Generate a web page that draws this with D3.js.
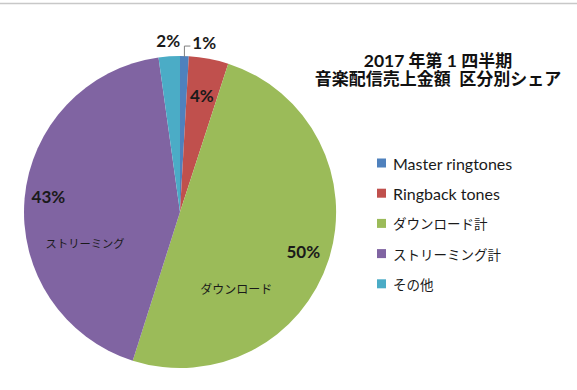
<!DOCTYPE html>
<html>
<head>
<meta charset="utf-8">
<script src="https://cdn.jsdelivr.net/npm/d3@7"></script>
<style>
  body { margin: 0; background: #fff; }
  svg { display: block; font-family: Lato, "Noto Sans CJK JP", sans-serif; }
</style>
</head>
<body>
<svg id="chart" width="577" height="390"></svg>
<script>
// Data
const categories = ["Master ringtones", "Ringback tones", "ダウンロード計", "ストリーミング計", "その他"];
const shares = [0.9, 4.1, 49.9, 42.9, 2.2];
const percentLabels = ["1%", "4%", "50%", "43%", "2%"];
const colors = ["#4F81BD", "#C0504D", "#9BBB59", "#8064A2", "#4BACC6"];
const titleLines = ["2017 年第 1 四半期", "音楽配信売上金額\u00a0\u00a0区分別シェア"];

const svg = d3.select("#chart");
const cx = 180, cy = 212, r = 156;

// split text into latin / japanese runs so each gets its own font
const cjk = /[\u3000-\u30ff\u4e00-\u9fff\uff00-\uffef]/;
function runs(str) {
  const out = [];
  for (const ch of str) {
    const isJ = cjk.test(ch);
    if (out.length && out[out.length - 1].j === isJ) out[out.length - 1].t += ch;
    else out.push({ t: ch, j: isJ });
  }
  return out;
}
function mixedText(sel, str, latinSize, jpSize) {
  runs(str).forEach((p) => {
    sel.append("tspan")
      .attr("font-family", p.j ? "'Noto Sans CJK JP'" : "Lato")
      .attr("font-size", (p.j ? jpSize : latinSize) + "px")
      .text(p.t);
  });
}

// top border line
svg.append("line")
  .attr("x1", 0).attr("x2", 577)
  .attr("y1", 3.5).attr("y2", 3.5)
  .attr("stroke", "#c8c8c8")
  .attr("stroke-width", 1.5);

const pie = d3.pie().sort(null).value((d) => d);
const arcs = pie(shares);
const arc = d3.arc().innerRadius(0).outerRadius(r);

const g = svg.append("g").attr("transform", `translate(${cx},${cy})`);

g.selectAll("path")
  .data(arcs)
  .enter()
  .append("path")
  .attr("d", arc)
  .attr("fill", (d, i) => colors[i]);

// percent label placement: radius factor, plus angle shift (deg)
const pctRadius = [1.1, 0.76, 0.83, 0.85, 1.1];
const pctShift = [6.5, 0, 0, 2, 0];

function polar(angle, rad) {
  return [Math.sin(angle) * rad, -Math.cos(angle) * rad];
}

arcs.forEach((d, i) => {
  const mid = (d.startAngle + d.endAngle) / 2 + (pctShift[i] * Math.PI) / 180;
  const [x, y] = polar(mid, r * pctRadius[i]);
  g.append("text")
    .attr("x", x)
    .attr("y", y)
    .attr("text-anchor", "middle")
    .attr("dominant-baseline", "central")
    .attr("font-family", "Lato")
    .attr("font-size", "17px")
    .attr("font-weight", "bold")
    .attr("fill", "#1a1a1a")
    .text(percentLabels[i]);
});

// leader line for the 1% slice
{
  const d = arcs[0];
  const mid = (d.startAngle + d.endAngle) / 2;
  const [x0, y0] = polar(mid, r);
  g.append("path")
    .attr("d", `M${x0},${y0 + 1} L${x0},${y0 - 10} L${x0 + 6},${y0 - 10}`)
    .attr("fill", "none")
    .attr("stroke", "#7f7f7f")
    .attr("stroke-width", 1);
}

// category labels inside the two big slices
const innerNames = { 2: "ダウンロード", 3: "ストリーミング" };
const innerShift = { 2: 36, 3: -23 };
const innerRadius = { 2: 0.61, 3: 0.64 };
const innerSize = { 2: 12, 3: 11.3 };
Object.keys(innerNames).forEach((k) => {
  const d = arcs[k];
  const mid = (d.startAngle + d.endAngle) / 2 + (innerShift[k] * Math.PI) / 180;
  const [x, y] = polar(mid, r * innerRadius[k]);
  g.append("text")
    .attr("x", x)
    .attr("y", y)
    .attr("text-anchor", "middle")
    .attr("dominant-baseline", "central")
    .attr("font-family", "'Noto Sans CJK JP'")
    .attr("font-size", innerSize[k] + "px")
    .attr("fill", "#1a1a1a")
    .text(innerNames[k]);
});

// title
svg.selectAll("text.title")
  .data(titleLines)
  .enter()
  .append("text")
  .attr("class", "title")
  .attr("x", 438)
  .attr("y", (d, i) => 67 + i * 18)
  .attr("text-anchor", "middle")
  .attr("font-weight", "bold")
  .attr("fill", "#111")
  .each(function (d) { mixedText(d3.select(this), d, 17.5, 17); });

// legend
const legend = svg.append("g").attr("transform", "translate(377,163)");
const rows = legend.selectAll("g")
  .data(categories)
  .enter()
  .append("g")
  .attr("transform", (d, i) => `translate(0,${i * 30.2})`);

rows.append("rect")
  .attr("x", 0).attr("y", -4.5)
  .attr("width", 9).attr("height", 9)
  .attr("fill", (d, i) => colors[i]);

rows.append("text")
  .attr("x", 16)
  .attr("y", 0)
  .attr("dominant-baseline", "central")
  .attr("fill", "#1a1a1a")
  .each(function (d) { mixedText(d3.select(this), d, 16, 13.5); });
</script>
</body>
</html>
